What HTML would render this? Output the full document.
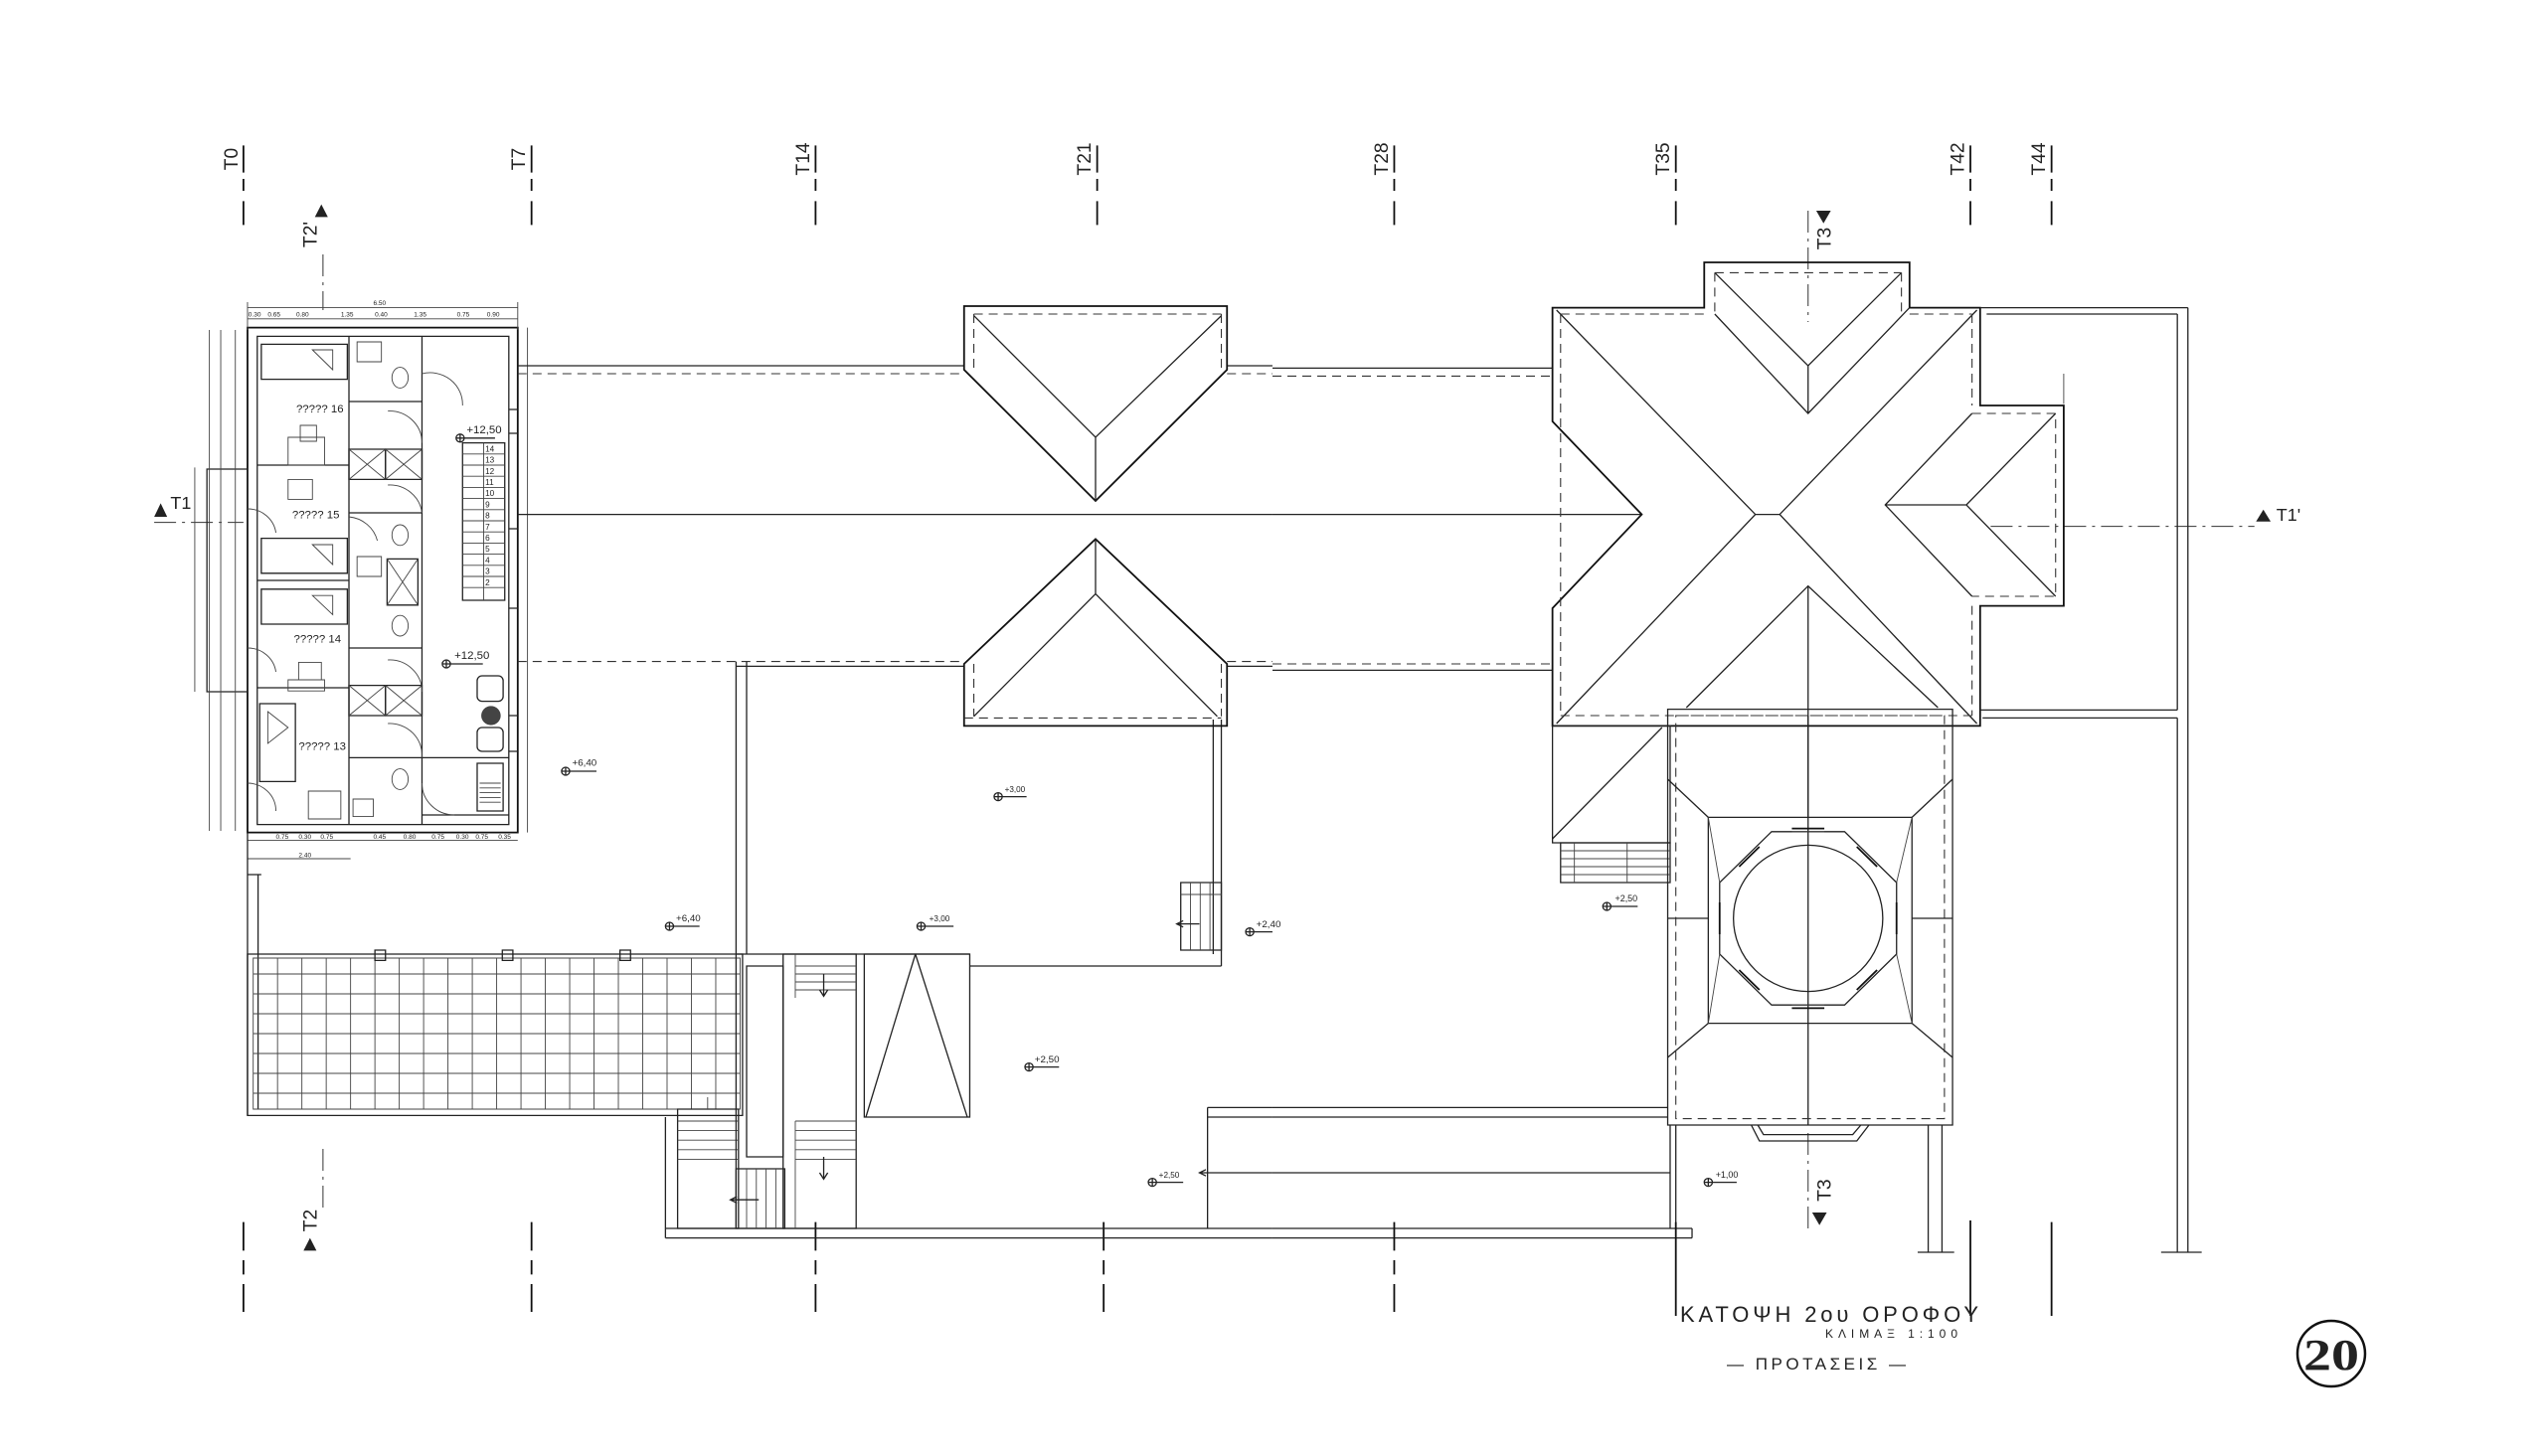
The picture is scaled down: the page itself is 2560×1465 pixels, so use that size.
<!DOCTYPE html>
<html><head><meta charset="utf-8"><style>
html,body{margin:0;padding:0;background:#fff}
svg{display:block}
text{font-family:"Liberation Sans",sans-serif;fill:#222}
.s{fill:none;stroke:#222;stroke-width:1.3;vector-effect:non-scaling-stroke}
.t{fill:none;stroke:#444;stroke-width:0.9;vector-effect:non-scaling-stroke}
.d{fill:none;stroke:#333;stroke-width:1.1;stroke-dasharray:9 6;vector-effect:non-scaling-stroke}
.dd{fill:none;stroke:#333;stroke-width:1;stroke-dasharray:22 6 3 6;vector-effect:non-scaling-stroke}
.b{fill:none;stroke:#111;stroke-width:1.8;vector-effect:non-scaling-stroke}
</style></head><body>
<svg width="2560" height="1465" viewBox="0 0 2560 1465" xmlns="http://www.w3.org/2000/svg">
<rect width="2560" height="1465" fill="#fff"/>

<!-- LEFT HALF (zoom coords) -->
<g transform="translate(0,100) scale(0.8163,0.8)">
 <!-- grid ticks -->
 <path class="b" d="M300 58V92M300 100V115M300 128V158 M655 58V92M655 100V115M655 128V158 M1005 58V92M1005 100V115M1005 128V158 M1352 58V92M1352 100V115M1352 128V158"/>
 <path class="b" d="M300 1412V1448M300 1460V1478M300 1490V1525 M655 1412V1448M655 1460V1478M655 1490V1525 M1005 1412V1448M1005 1460V1478M1005 1490V1525 M1360 1412V1448M1360 1460V1478M1360 1490V1525"/>
 <text transform="translate(293,75) rotate(-90)" font-size="24" text-anchor="middle">T0</text>
 <text transform="translate(647,75) rotate(-90)" font-size="24" text-anchor="middle">T7</text>
 <text transform="translate(997,75) rotate(-90)" font-size="24" text-anchor="middle">T14</text>
 <text transform="translate(1344,75) rotate(-90)" font-size="24" text-anchor="middle">T21</text>
 <!-- section marks -->
 <polygon points="388,148 404,148 396,132" fill="#222"/>
 <text transform="translate(390,170) rotate(-90)" font-size="24" text-anchor="middle">T2'</text>
 <path class="dd" d="M398 195V265"/>
 <polygon points="374,1448 390,1448 382,1432" fill="#222"/>
 <text transform="translate(390,1410) rotate(-90)" font-size="24" text-anchor="middle">T2</text>
 <path class="dd" d="M398 1320V1400"/>
 <polygon points="190,525 206,525 198,508" fill="#222"/>
 <text x="210" y="515" font-size="22">T1</text>
 <path class="dd" d="M190 532H300"/>

 <!-- building -->
 <rect class="b" x="305" y="287" width="333" height="635"/>
 <rect class="s" x="317" y="298" width="310" height="614"/>
 <rect class="s" x="255" y="465" width="50" height="280"/>
 <path class="s" d="M317 460H430M317 605H430M317 740H430M430 298V912M520 298V912M520 298V330M430 380H520M430 520H520M430 690H520M430 828H520M520 828H627M520 900H627"/>
 <rect class="s" x="430" y="440" width="45" height="38"/><rect class="s" x="475" y="440" width="45" height="38"/>
 <path class="t" d="M430 440L475 478M475 440L430 478M475 440L520 478M520 440L475 478"/>
 <rect class="s" x="430" y="737" width="45" height="38"/><rect class="s" x="475" y="737" width="45" height="38"/>
 <path class="t" d="M430 737L475 775M475 737L430 775M475 737L520 775M520 737L475 775"/>
 <rect class="s" x="477" y="578" width="38" height="58"/><path class="t" d="M477 578L515 636M515 578L477 636"/>
 <rect class="s" x="322" y="308" width="106" height="44"/><path class="t" d="M385 315L410 340L410 315Z"/>
 <rect class="s" x="322" y="552" width="106" height="44"/><path class="t" d="M385 560L410 585L410 560Z"/>
 <rect class="s" x="322" y="616" width="106" height="44"/><path class="t" d="M385 624L410 648L410 624Z"/>
 <rect class="s" x="320" y="760" width="44" height="98"/><path class="t" d="M330 770L355 790L330 810Z"/>
 <rect class="t" x="355" y="425" width="45" height="35"/><rect class="t" x="370" y="410" width="20" height="20"/>
 <rect class="t" x="355" y="478" width="30" height="25"/>
 <rect class="t" x="368" y="708" width="28" height="22"/><rect class="t" x="355" y="730" width="45" height="14"/>
 <rect class="t" x="380" y="870" width="40" height="35"/><rect class="t" x="435" y="880" width="25" height="22"/>
 <rect class="t" x="440" y="305" width="30" height="25"/><rect class="t" x="440" y="575" width="30" height="25"/>
 <ellipse class="t" cx="493" cy="350" rx="10" ry="13"/><ellipse class="t" cx="493" cy="548" rx="10" ry="13"/>
 <ellipse class="t" cx="493" cy="662" rx="10" ry="13"/><ellipse class="t" cx="493" cy="855" rx="10" ry="13"/>
 <path class="t" d="M520 345A40 40 0 0 1 570 385M478 392A40 40 0 0 1 520 432M478 485A40 40 0 0 1 520 520M478 705A40 40 0 0 1 520 745M478 785A40 40 0 0 1 520 828M430 525A40 40 0 0 1 465 555M305 515A35 35 0 0 1 340 545M305 690A35 35 0 0 1 340 720M305 860A35 35 0 0 1 340 895M520 860A40 40 0 0 0 560 900"/>
 <rect class="s" x="570" y="432" width="52" height="198"/>
 <path class="t" d="M570 446H622M570 460H622M570 474H622M570 488H622M570 502H622M570 516H622M570 530H622M570 544H622M570 558H622M570 572H622M570 586H622M570 600H622M570 614H622M596 432V630"/>
 <g font-size="10"><text x="598" y="443">14</text><text x="598" y="457">13</text><text x="598" y="471">12</text><text x="598" y="485">11</text><text x="598" y="499">10</text><text x="598" y="513">9</text><text x="598" y="527">8</text><text x="598" y="541">7</text><text x="598" y="555">6</text><text x="598" y="569">5</text><text x="598" y="583">4</text><text x="598" y="597">3</text><text x="598" y="611">2</text></g>
 <rect class="s" x="588" y="725" width="32" height="32" rx="6"/><circle cx="605" cy="775" r="12" fill="#444"/>
 <rect class="s" x="588" y="790" width="32" height="30" rx="6"/><rect class="s" x="588" y="835" width="32" height="60"/>
 <path class="t" d="M591 860H617M591 866H617M591 872H617M591 878H617M591 884H617"/>
 <path class="s" d="M627 390H638M627 420H638M627 540H638M627 640H638M627 775H638M627 820H638"/>
 <g font-size="14"><text x="365" y="394">????? 16</text><text x="360" y="527">????? 15</text><text x="362" y="683">????? 14</text><text x="368" y="818">????? 13</text></g>
 <circle class="s" cx="567" cy="426" r="5"/><path class="s" d="M567 421V431M562 426H572M572 426H610"/><text x="575" y="420" font-size="14">+12,50</text>
 <circle class="s" cx="550" cy="710" r="5"/><path class="s" d="M550 705V715M545 710H555M555 710H595"/><text x="560" y="704" font-size="14">+12,50</text>
 <!-- dims -->
 <path class="t" d="M305 262H638M305 276H638M240 463V745M258 290V920M272 290V920M290 290V920M650 287V922M305 932H638M305 955H432M305 255V290M638 255V290"/>
 <g font-size="8" fill="#333"><text x="460" y="259">6.50</text><text x="306" y="273">0.30</text><text x="330" y="273">0.65</text><text x="365" y="273">0.80</text><text x="420" y="273">1.35</text><text x="462" y="273">0.40</text><text x="510" y="273">1.35</text><text x="563" y="273">0.75</text><text x="600" y="273">0.90</text><text x="340" y="930">0.75</text><text x="368" y="930">0.30</text><text x="395" y="930">0.75</text><text x="460" y="930">0.45</text><text x="497" y="930">0.80</text><text x="532" y="930">0.75</text><text x="562" y="930">0.30</text><text x="586" y="930">0.75</text><text x="614" y="930">0.35</text><text x="368" y="953">2.40</text></g>

 <!-- terrace -->
 <path class="s" d="M305 922V1278M318 975V1270M305 975H322"/>
 <rect class="s" x="305" y="1075" width="610" height="203"/>
 <rect class="t" x="312" y="1080" width="600" height="190"/>
 <path class="t" d="M342 1080V1270M372 1080V1270M402 1080V1270M432 1080V1270M462 1080V1270M492 1080V1270M522 1080V1270M552 1080V1270M582 1080V1270M612 1080V1270M642 1080V1270M672 1080V1270M702 1080V1270M732 1080V1270M762 1080V1270M792 1080V1270M822 1080V1270M852 1080V1270M882 1080V1270 M312 1100H912M312 1125H912M312 1150H912M312 1175H912M312 1200H912M312 1225H912M312 1250H912"/>
 <rect class="s" x="462" y="1070" width="13" height="13" fill="#fff"/><rect class="s" x="619" y="1070" width="13" height="13" fill="#fff"/><rect class="s" x="764" y="1070" width="13" height="13" fill="#fff"/>

 <!-- stairs & lower -->
 <rect class="s" x="835" y="1270" width="75" height="150"/>
 <path class="t" d="M835 1285H910M835 1297H910M835 1309H910M835 1321H910M835 1333H910M872 1255V1270"/>
 <path class="s" d="M820 1280V1432M820 1420H1568M820 1432H1568M907 707V1420M920 707V1075M907 1075H1195M1195 1090H1505M1505 780V1090M1495 780V1075"/>
 <rect class="s" x="920" y="1090" width="45" height="240"/>
 <rect class="s" x="965" y="1075" width="90" height="345"/>
 <path class="t" d="M980 1075V1130M980 1285V1420M980 1090H1055M980 1100H1055M980 1110H1055M980 1120H1055M980 1285H1055M980 1297H1055M980 1309H1055M980 1321H1055M980 1333H1055"/>
 <path class="s" d="M1015 1100V1128M1010 1120L1015 1128L1020 1120M1015 1330V1358M1010 1350L1015 1358L1020 1350"/>
 <rect class="s" x="907" y="1345" width="60" height="75"/>
 <path class="t" d="M920 1345V1420M932 1345V1420M944 1345V1420M956 1345V1420"/>
 <path class="s" d="M935 1384H900M908 1380L900 1384L908 1388"/>
 <rect class="s" x="1065" y="1075" width="130" height="205"/>
 <path class="s" d="M1128 1075L1067 1280M1128 1075L1192 1280"/>
 <rect class="s" x="1455" y="985" width="50" height="85"/>
 <path class="t" d="M1467 985V1070M1479 985V1070M1491 985V1070M1455 1000H1505"/>
 <path class="s" d="M1478 1037H1450M1458 1033L1450 1037L1458 1041"/>
 <path class="s" d="M1488 1268H1568M1488 1280H1568M1488 1268V1420M1478 1350H1568M1486 1346L1478 1350L1486 1354"/>
 <!-- level markers -->
 <g font-size="12">
  <circle class="s" cx="697" cy="845" r="5"/><path class="s" d="M692 845H702M697 840V850M702 845H735"/><text x="705" y="838">+6,40</text>
  <circle class="s" cx="1230" cy="877" r="5"/><path class="s" d="M1225 877H1235M1230 872V882M1235 877H1265"/><text x="1238" y="871" font-size="10">+3,00</text>
  <circle class="s" cx="825" cy="1040" r="5"/><path class="s" d="M820 1040H830M825 1035V1045M830 1040H862"/><text x="833" y="1034">+6,40</text>
  <circle class="s" cx="1135" cy="1040" r="5"/><path class="s" d="M1130 1040H1140M1135 1035V1045M1140 1040H1175"/><text x="1145" y="1034" font-size="10">+3,00</text>
  <circle class="s" cx="1540" cy="1047" r="5"/><path class="s" d="M1535 1047H1545M1540 1042V1052M1545 1047H1568"/><text x="1548" y="1041">+2,40</text>
  <circle class="s" cx="1268" cy="1217" r="5"/><path class="s" d="M1263 1217H1273M1268 1212V1222M1273 1217H1305"/><text x="1275" y="1211">+2,50</text>
  <circle class="s" cx="1420" cy="1362" r="5"/><path class="s" d="M1415 1362H1425M1420 1357V1367M1425 1362H1458"/><text x="1428" y="1356" font-size="10">+2,50</text>
 </g>

 <!-- corridor bands -->
 <path class="s" d="M638 335H1188M1512 335H1568M638 522H1568M907 713H1188M1512 713H1568"/>
 <path class="d" d="M638 345H1188M1512 345H1568M638 707H1188M1512 707H1568"/>
 <!-- gable roofs -->
 <polygon class="b" points="1188,260 1512,260 1512,340 1350,505 1188,340"/>
 <path class="s" d="M1200 272L1350 425L1505 272M1350 425V505"/>
 <path class="d" d="M1200 270H1505M1200 270V340M1505 270V340"/>
 <polygon class="b" points="1188,710 1350,553 1512,710 1512,788 1188,788"/>
 <path class="s" d="M1200 776L1350 622L1500 776M1350 553V622"/>
 <path class="d" d="M1188 778H1505M1200 710V776M1505 710V776"/>
</g>

<!-- RIGHT HALF -->
<g transform="translate(1280,100) scale(0.8163,0.8)">
 <path class="s" d="M0 338H345M0 522H455M0 718H345M0 1268H487M0 1280H487M0 1350H490M0 1420H517M0 1432H517M517 1420V1432M490 1290V1420M497 1290V1432"/>
 <path class="d" d="M0 348H345M0 710H345"/>
 <!-- ticks -->
 <path class="b" d="M150 58V92M150 100V115M150 128V158 M497 58V92M497 100V115M497 128V158 M860 58V92M860 100V115M860 128V158 M960 58V92M960 100V115M960 128V158"/>
 <path class="b" d="M150 1412V1448M150 1460V1478M150 1490V1525 M497 1412V1530 M860 1410V1530 M960 1412V1530"/>
 <text transform="translate(142,75) rotate(-90)" font-size="24" text-anchor="middle">T28</text>
 <text transform="translate(489,75) rotate(-90)" font-size="24" text-anchor="middle">T35</text>
 <text transform="translate(852,75) rotate(-90)" font-size="24" text-anchor="middle">T42</text>
 <text transform="translate(952,75) rotate(-90)" font-size="24" text-anchor="middle">T44</text>
 <!-- T3 -->
 <polygon points="670,140 688,140 679,156" fill="#222"/>
 <text transform="translate(688,175) rotate(-90)" font-size="24" text-anchor="middle">T3</text>
 <path class="dd" d="M660 140V280M660 1300V1420"/>
 <text transform="translate(688,1372) rotate(-90)" font-size="24" text-anchor="middle">T3</text>
 <polygon points="665,1400 683,1400 674,1416" fill="#222"/>
 <path class="dd" d="M885 537H1210"/>
 <polygon points="1212,531 1230,531 1221,516" fill="#222"/>
 <text x="1237" y="530" font-size="22">T1'</text>
 <!-- cross roof -->
 <polygon class="b" points="345,262 532,262 532,205 785,205 785,262 872,262 872,385 975,385 975,637 872,637 872,788 345,788 345,640 455,522 345,405"/>
 <path class="s" d="M350 265L595 522L350 785M868 265L625 522L868 785M595 522H625"/>
 <path class="s" d="M545 218L660 335L775 218M545 270L660 395L785 262M660 335V395"/>
 <path class="d" d="M545 218H775M545 218V270M775 218V270"/>
 <path class="s" d="M862 395L755 510L862 625M965 395L855 510L965 625M755 510H855"/>
 <path class="d" d="M862 395H965V625H862"/>
 <path class="s" d="M510 765L660 612L820 765M660 612V1290"/>
 <path class="d" d="M355 270H532M785 270H862M355 270V775M862 270V385M862 637V775M355 775H862"/>
 <path class="t" d="M975 345V383"/>
 <!-- right area -->
 <path class="s" d="M872 262H1128M880 270H1115M1115 270V768M1128 262V1450M872 768H1115M875 778H1115M1115 778V1450M1095 1450H1145"/>
 <!-- lower left piece -->
 <rect class="s" x="345" y="788" width="145" height="147"/>
 <path class="s" d="M345 930L480 790"/>
 <rect class="s" x="355" y="935" width="135" height="50"/>
 <path class="t" d="M355 945H490M355 955H490M355 965H490M355 975H490M372 935V985M437 935V985"/>
 <!-- tower -->
 <rect class="s" x="487" y="767" width="351" height="523"/>
 <rect class="d" x="497" y="775" width="331" height="507"/>
 <rect class="s" x="537" y="903" width="251" height="259"/>
 <path class="s" d="M487 855L537 903M838 855L788 903M487 1205L537 1162M838 1205L788 1162M660 775V903M487 1030H537M788 1030H838"/>
 <polygon class="s" points="769,985 705,921 615,921 551,985 551,1075 615,1139 705,1139 769,1075"/>
 <circle class="s" cx="660" cy="1030" r="92"/>
 <path class="t" d="M551 985L537 903M769 985L788 903M551 1075L537 1162M769 1075L788 1162M640 921H680M640 1139H680"/>
 <path class="b" d="M575 965L600 940M720 940L745 965M575 1095L600 1120M720 1120L745 1095M551 1010V1050M769 1010V1050M640 917H680M640 1143H680"/>
 <path class="s" d="M590 1290L600 1310H720L735 1290M598 1290L605 1302H715L725 1290"/>
 <path class="s" d="M808 1290V1450M825 1290V1450M795 1450H840"/>
 <g font-size="11">
  <circle class="s" cx="412" cy="1015" r="5"/><path class="s" d="M407 1015H417M412 1010V1020M417 1015H450"/><text x="422" y="1009">+2,50</text>
  <circle class="s" cx="537" cy="1362" r="5"/><path class="s" d="M532 1362H542M537 1357V1367M542 1362H572"/><text x="546" y="1356">+1,00</text>
 </g>
</g>

<!-- titles -->
<text x="1690" y="1330" font-size="22" textLength="300" lengthAdjust="spacing">ΚΑΤΟΨΗ  2ου  ΟΡΟΦΟΥ</text>
<text x="1836" y="1346" font-size="12" fill="#666" textLength="133" lengthAdjust="spacing">ΚΛΙΜΑΞ   1:100</text>
<text x="1737" y="1378" font-size="17" textLength="180" lengthAdjust="spacing">— ΠΡΟΤΑΣΕΙΣ —</text>
<ellipse cx="2345" cy="1362" rx="34" ry="33" fill="none" stroke="#111" stroke-width="2.5"/>
<text x="2345" y="1378" font-size="44" font-weight="bold" font-family="Liberation Serif, serif" text-anchor="middle" style="font-family:'Liberation Serif',serif" textLength="56" lengthAdjust="spacingAndGlyphs">20</text>
</svg>
</body></html>
